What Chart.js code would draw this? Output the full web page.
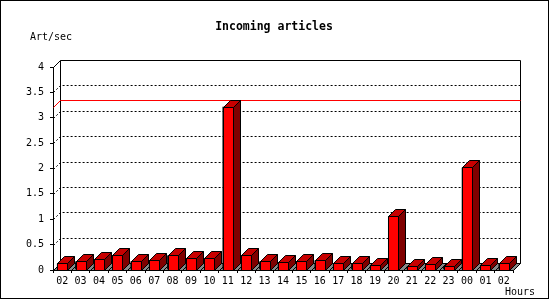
<!DOCTYPE html>
<html>
<head>
<meta charset="utf-8">
<script src="https://cdn.jsdelivr.net/npm/chart.js@4/dist/chart.umd.min.js"></script>
<style>
  body { margin: 0; background: #fff; }
  canvas { display: block; }
</style>
</head>
<body>
<canvas id="myChart" width="550" height="300"></canvas>
<script>
// hours on the x axis (starts and ends at 02)
const hours = ["02", "03", "04", "05", "06", "07", "08", "09", "10", "11", "12", "13",
  "14", "15", "16", "17", "18", "19", "20", "21", "22", "23", "00", "01", "02"];
// articles per second
const artPerSec = [0.13, 0.17, 0.21, 0.29, 0.17, 0.19, 0.29, 0.23, 0.23, 3.22, 0.29, 0.17,
  0.15, 0.17, 0.19, 0.13, 0.13, 0.09, 1.06, 0.07, 0.11, 0.07, 2.02, 0.09, 0.13];
const yMax = 4;
const yStep = 0.5;

const titleText = "Incoming articles";
const yUnitText = "Art/sec";
const xUnitText = "Hours";

const mono = "'DejaVu Sans Mono', 'Liberation Mono', monospace";
// depth of the fake 3d look
const dx = 7;
const dy = 7;
const px = (v) => Math.round(v) + 0.5;

const chart3d = {
  id: "chart3d",
  beforeDraw(chart) {
    const ctx = chart.ctx;
    ctx.save();
    ctx.fillStyle = "#fff";
    ctx.fillRect(0, 0, chart.width, chart.height);
    ctx.restore();
  },
  beforeDatasetsDraw(chart) {
    const { ctx, chartArea } = chart;
    const yScale = chart.scales.y;
    const L = px(chartArea.left), R = px(chartArea.right);
    const T = px(chartArea.top), B = px(chartArea.bottom);
    ctx.save();
    ctx.lineWidth = 1;
    ctx.strokeStyle = "#000";

    //dotted grid lines on the back wall
    ctx.setLineDash([2, 2]);
    yScale.ticks.forEach((t) => {
      if (t.value <= 0 || t.value >= yMax) return;
      const py = px(yScale.getPixelForValue(t.value));
      ctx.beginPath();
      ctx.moveTo(L, py);
      ctx.lineTo(L + dx, py - dy);
      ctx.lineTo(R + dx, py - dy);
      ctx.stroke();
    });
    ctx.setLineDash([]);

    //back wall
    ctx.beginPath();
    ctx.moveTo(L, T);
    ctx.lineTo(L + dx, T - dy);
    ctx.lineTo(R + dx, T - dy);
    ctx.lineTo(R + dx, B - dy);
    ctx.moveTo(L + dx, T - dy);
    ctx.lineTo(L + dx, B - dy);
    ctx.stroke();

    //max line in red
    const my = px(yScale.getPixelForValue(Math.max(...artPerSec)));
    ctx.strokeStyle = "#f00";
    ctx.beginPath();
    ctx.moveTo(L, my);
    ctx.lineTo(L + dx, my - dy);
    ctx.lineTo(R + dx, my - dy);
    ctx.stroke();

    //floor
    ctx.strokeStyle = "#000";
    ctx.fillStyle = "#888";
    ctx.beginPath();
    ctx.moveTo(L, B);
    ctx.lineTo(R, B);
    ctx.lineTo(R + dx, B - dy);
    ctx.lineTo(L + dx, B - dy);
    ctx.closePath();
    ctx.fill();
    ctx.stroke();
    const step = (chartArea.right - chartArea.left) / hours.length;
    ctx.beginPath();
    for (let i = 0; i <= hours.length; i++) {
      const bx = px(chartArea.left + i * step);
      ctx.moveTo(bx, B);
      ctx.lineTo(bx + dx, B - dy);
    }
    ctx.stroke();
    ctx.restore();
  },
  afterDatasetsDraw(chart) {
    const ctx = chart.ctx;
    const meta = chart.getDatasetMeta(0);
    ctx.save();
    ctx.lineWidth = 1;
    ctx.strokeStyle = "#000";
    meta.data.forEach((bar) => {
      const { x, y, base } = bar.getProps(["x", "y", "base"], true);
      const l = Math.round(x) - 5 + 0.5;
      const r = Math.round(x) + 5 + 0.5;
      const t = px(y);
      const b = px(base);
      // front
      ctx.fillStyle = "#f00";
      ctx.fillRect(l, t, r - l, b - t);
      ctx.strokeRect(l, t, r - l, b - t);
      // top
      ctx.fillStyle = "#c80000";
      ctx.beginPath();
      ctx.moveTo(l, t);
      ctx.lineTo(l + dx, t - dy);
      ctx.lineTo(r + dx, t - dy);
      ctx.lineTo(r, t);
      ctx.closePath();
      ctx.fill();
      ctx.stroke();
      // side
      ctx.fillStyle = "#800000";
      ctx.beginPath();
      ctx.moveTo(r, t);
      ctx.lineTo(r + dx, t - dy);
      ctx.lineTo(r + dx, b - dy);
      ctx.lineTo(r, b);
      ctx.closePath();
      ctx.fill();
      ctx.stroke();
    });
    ctx.restore();
  },
  afterDraw(chart) {
    const ctx = chart.ctx;
    ctx.save();
    ctx.fillStyle = "#000";
    ctx.textBaseline = "middle";
    ctx.font = "bold 11.5px " + mono;
    ctx.textAlign = "center";
    ctx.fillText(titleText, 274, 27);
    ctx.font = "10px " + mono;
    ctx.textAlign = "left";
    ctx.fillText(yUnitText, 30, 37);
    ctx.fillText(xUnitText, 505, 292);
    //frame round the picture
    ctx.strokeStyle = "#000";
    ctx.lineWidth = 1;
    ctx.strokeRect(0.5, 0.5, 548, 298);
    ctx.restore();
  },
};

const ctx = document.getElementById("myChart");
new Chart(ctx, {
  type: "bar",
  plugins: [chart3d],
  data: {
    labels: hours,
    datasets: [
      {
        label: "Art/sec",
        data: artPerSec,
        backgroundColor: "#f00",
        borderColor: "#000",
        borderWidth: 1,
        borderSkipped: false,
        barPercentage: 0.6,
        categoryPercentage: 1,
      },
    ],
  },
  options: {
    responsive: false,
    animation: false,
    layout: { padding: { left: 0, right: 37, top: 67, bottom: 0 } },
    plugins: {
      legend: { display: false },
      tooltip: { enabled: false },
    },
    scales: {
      x: {
        grid: { drawOnChartArea: false, tickLength: 3, color: "#000", offset: true },
        border: { display: true, color: "#000" },
        ticks: {
          color: "#000",
          font: { family: mono, size: 10 },
          padding: 2,
          maxRotation: 0,
          autoSkip: false,
        },
        afterFit(scale) {
          scale.height = 30;
        },
      },
      y: {
        min: 0,
        max: yMax,
        grid: { drawOnChartArea: false, tickLength: 3, color: "#000" },
        border: { display: true, color: "#000" },
        ticks: {
          stepSize: yStep,
          color: "#000",
          font: { family: mono, size: 10 },
          padding: 6,
          callback: (v) => String(v),
        },
        afterFit(scale) {
          scale.width = 53;
        },
      },
    },
  },
});
</script>
</body>
</html>
